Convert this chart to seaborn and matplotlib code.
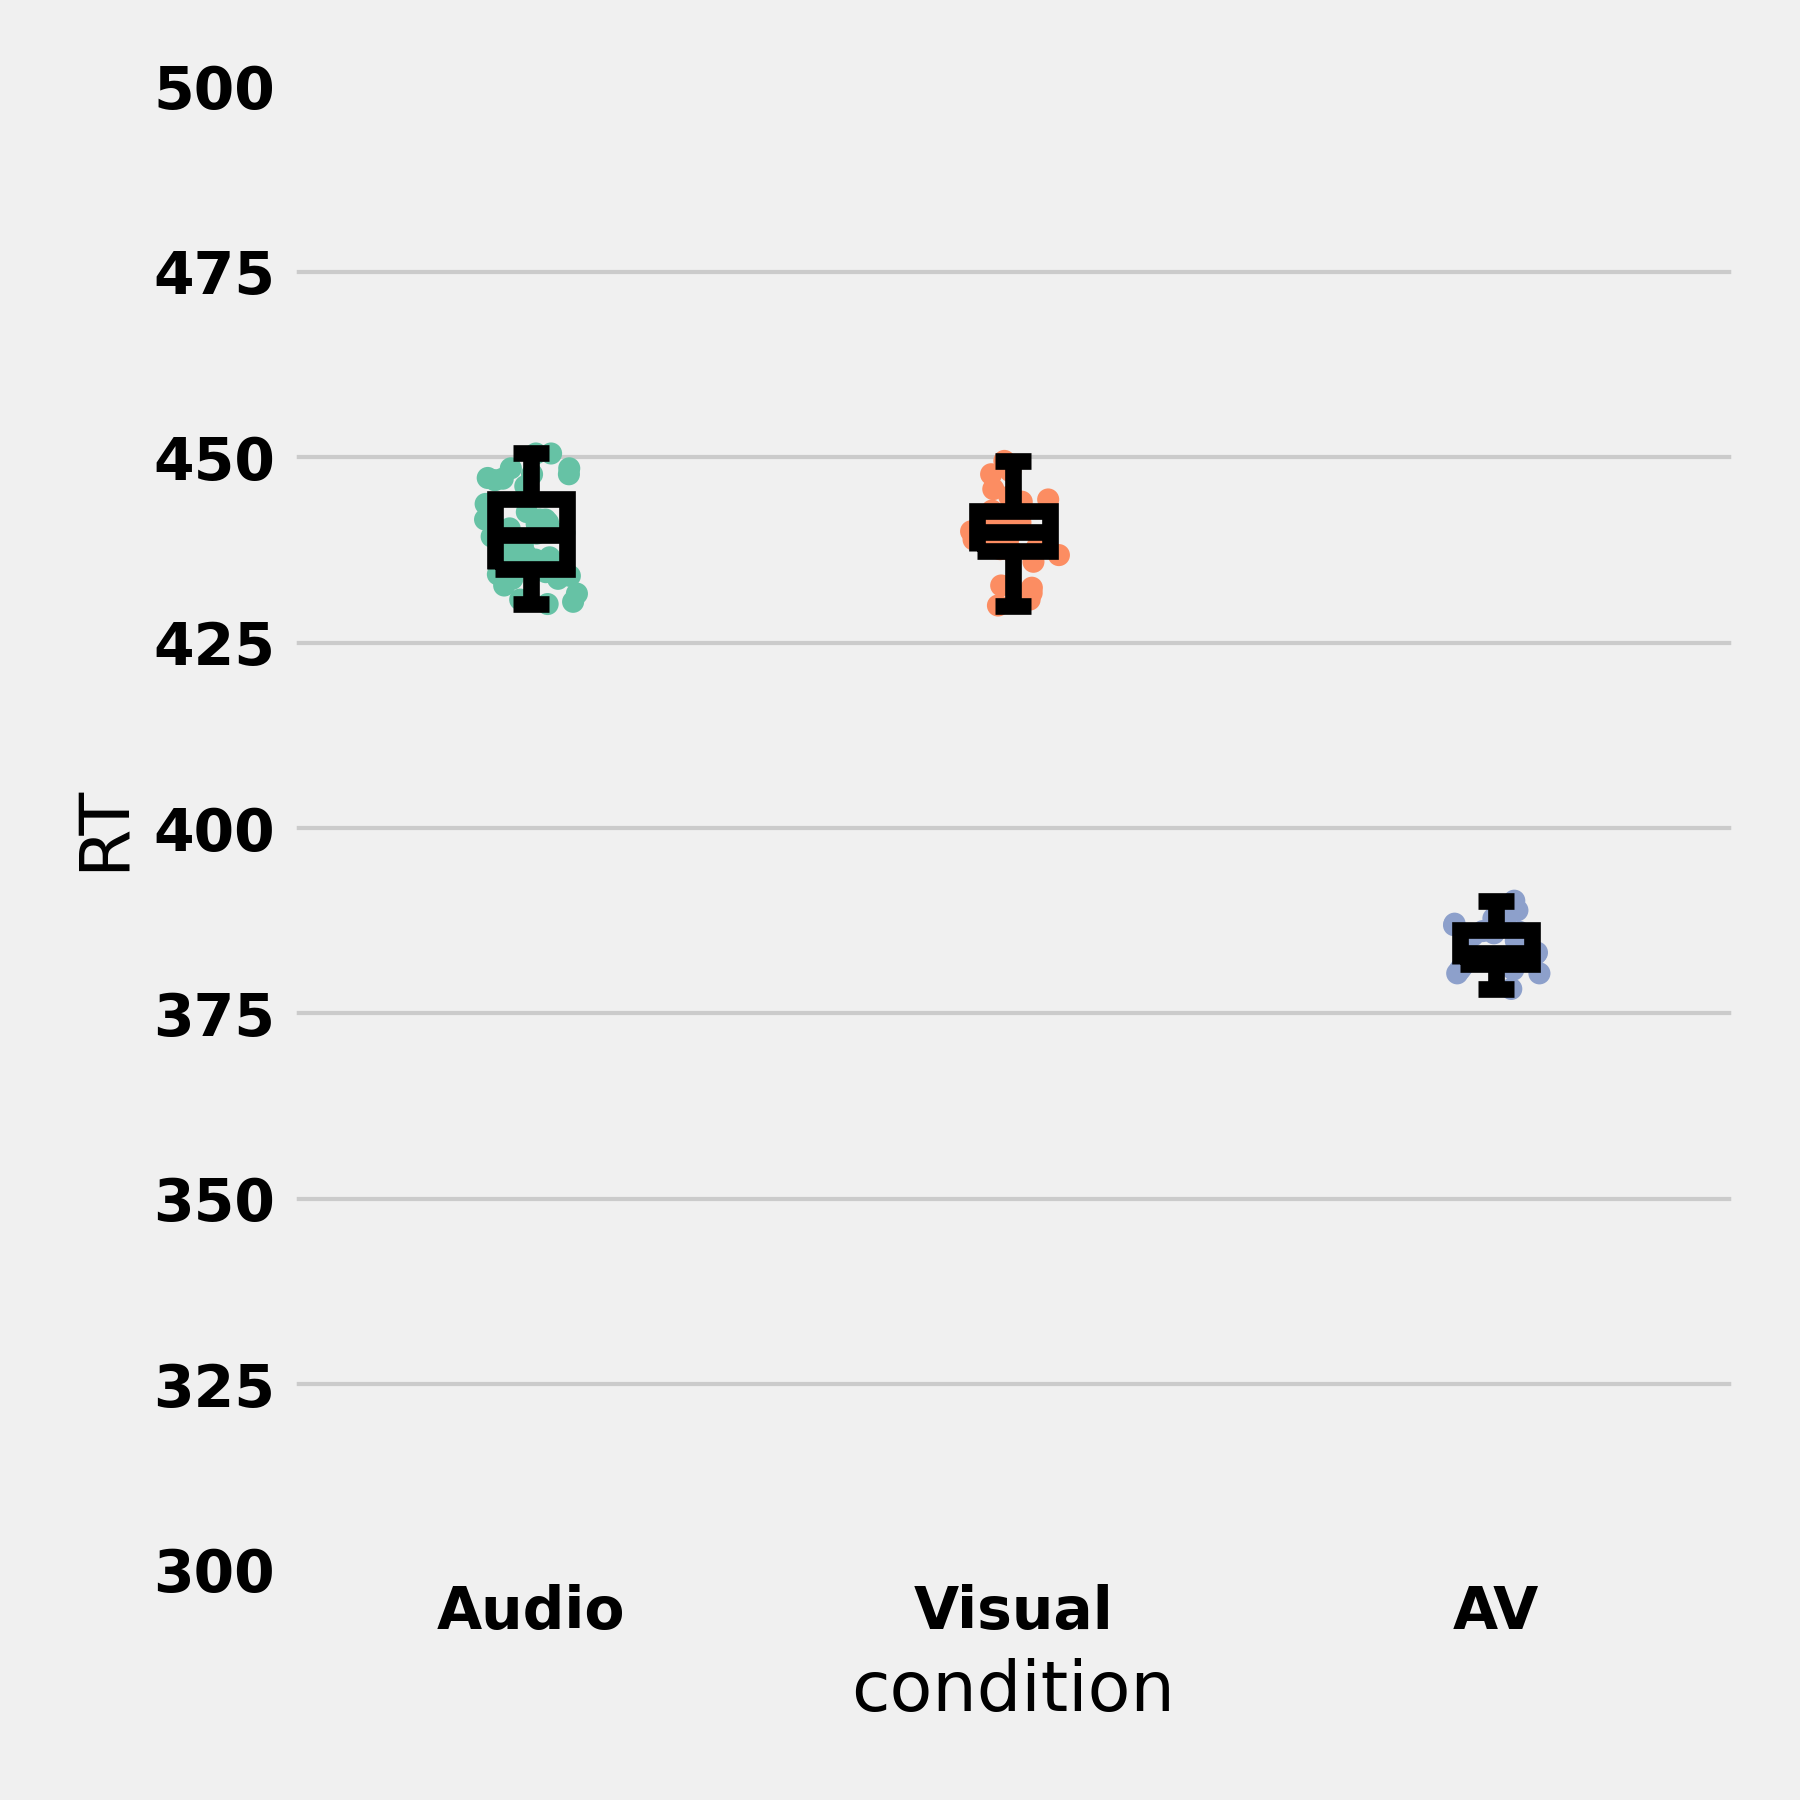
import numpy as np
import pandas as pd
import matplotlib
matplotlib.use('Agg')
import matplotlib.pyplot as plt
import seaborn as sns

# reaction times, per condition
conditions = ['Audio', 'Visual', 'AV']
audio_rt = [450.5, 450.5, 448.5, 447.7, 447.7, 448.5, 446.9, 447.1, 447.2, 446.1,
            443.7, 442.6, 441.6, 440.4, 441.2, 441.6, 441.6, 441.0, 438.1, 438.1,
            437.6, 436.5, 437.0, 434.2, 436.2, 433.6, 433.6, 432.7, 430.8, 430.5,
            431.6, 430.2, 434.0, 439.8, 438.5, 439.3, 434.5, 439.7, 435.0, 436.8]
visual_rt = [449.5, 448.1, 447.7, 445.7, 444.7, 444.3, 444.0, 442.5, 442.8, 441.6,
             442.1, 439.6, 440.4, 438.9, 437.3, 437.6, 435.9, 437.9, 432.4, 431.7,
             432.7, 430.8, 430.0, 441.2, 441.0, 438.9, 440.0, 439.8, 436.8, 439.5]
av_rt = [390.2, 389.2, 388.9, 387.8, 387.4, 386.9, 387.1, 384.0, 381.3, 380.4,
         380.9, 382.0, 382.4, 380.4, 380.9, 381.7, 384.8, 385.5, 383.2, 382.8,
         382.0, 385.8, 382.4, 386.0, 378.3, 383.0, 381.5, 386.1]

df = pd.DataFrame({
    'condition': ['Audio'] * len(audio_rt) + ['Visual'] * len(visual_rt) + ['AV'] * len(av_rt),
    'RT': audio_rt + visual_rt + av_rt,
})

plt.style.use('fivethirtyeight')
np.random.seed(3)

fig, ax = plt.subplots(figsize=(6, 6), dpi=300)
fig.subplots_adjust(left=0.161, right=0.965, bottom=0.128, top=0.952)

sns.stripplot(data=df, x='condition', y='RT', hue='condition', order=conditions,
              palette='Set2', size=5.3, jitter=0.1, legend=False, ax=ax, zorder=1)
sns.boxplot(data=df, x='condition', y='RT', order=conditions, fill=False,
            color='black', linewidth=4, width=0.15, showfliers=False, ax=ax,
            boxprops={'solid_joinstyle': 'miter'})

ax.set_ylim(300, 500)
ax.set_xlim(-0.5, 2.5)
ax.set_yticks([300, 325, 350, 375, 400, 425, 450, 475, 500])
ax.xaxis.grid(False)
ax.set_xlabel('condition')
ax.set_ylabel('RT')
plt.setp(ax.get_xticklabels(), fontweight='bold')
plt.setp(ax.get_yticklabels(), fontweight='bold')

fig.savefig('out.png', dpi=300, facecolor='#f0f0f0')
